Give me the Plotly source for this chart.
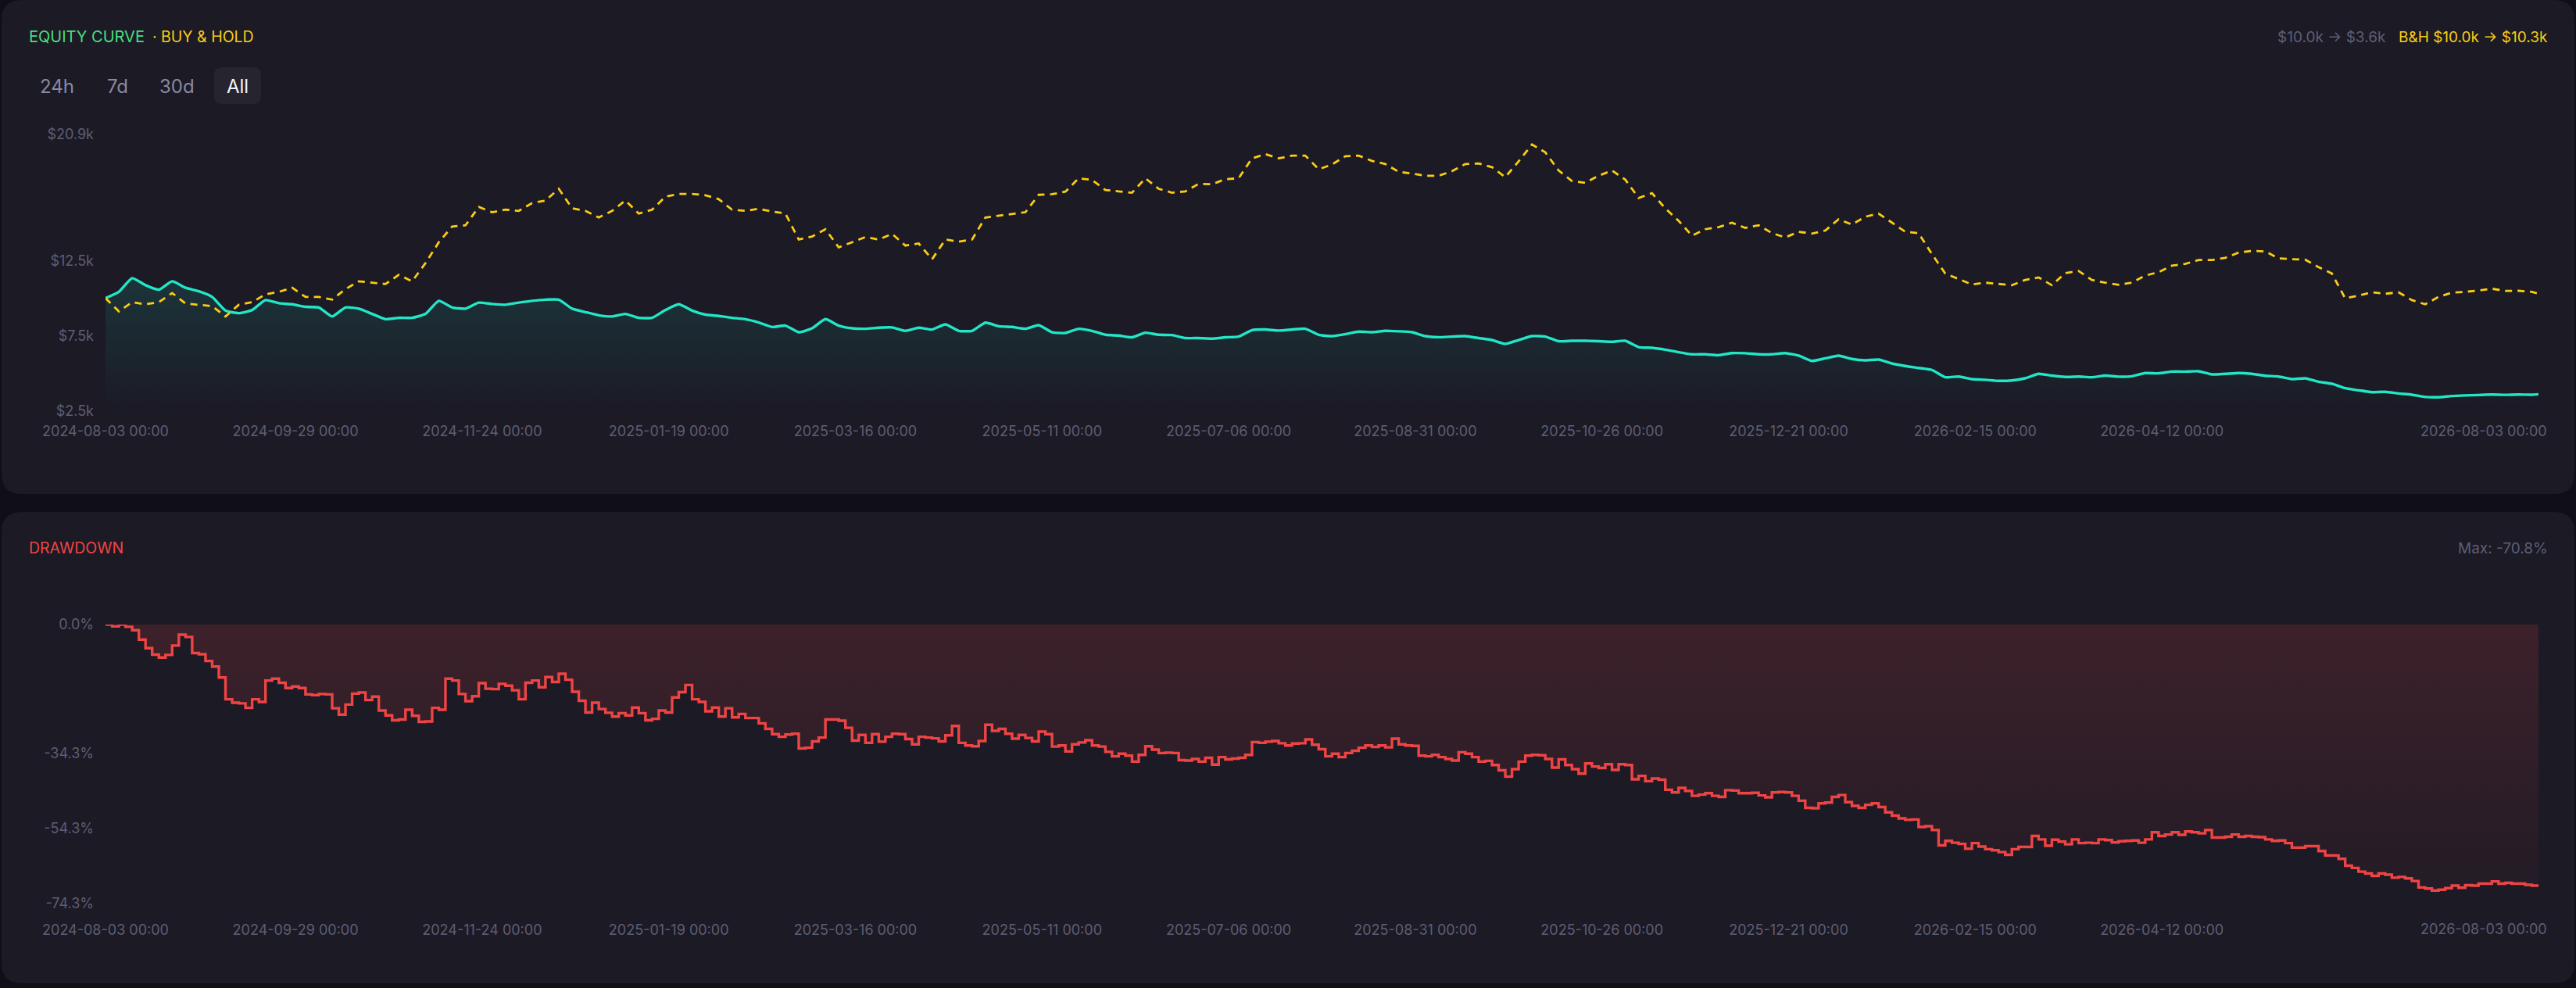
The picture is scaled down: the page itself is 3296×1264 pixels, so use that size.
import pandas as pd
import plotly.graph_objects as go

W, H = 3296, 1264

# %% data
dd_dates = pd.date_range("2024-08-03", "2026-08-03", freq="2D")
eq_dates = list(dd_dates[::2]) + [dd_dates[-1]]

equity_k = [
    10.0, 10.42, 11.33, 10.86, 10.56, 11.12, 10.69, 10.46, 10.08, 9.17,
    9.00, 9.21, 9.87, 9.66, 9.59, 9.42, 9.38, 8.78, 9.38, 9.30,
    8.95, 8.60, 8.69, 8.69, 8.95, 9.82, 9.38, 9.30, 9.70, 9.61,
    9.56, 9.70, 9.82, 9.90, 9.90, 9.30, 9.07, 8.86, 8.78, 8.95,
    8.69, 8.69, 9.21, 9.59, 9.17, 8.90, 8.81, 8.69, 8.60, 8.38,
    8.08, 8.17, 7.73, 7.99, 8.60, 8.17, 7.99, 7.96, 8.03, 8.05,
    7.82, 8.03, 7.91, 8.25,
    7.82, 7.82, 8.37, 8.13, 8.08, 7.96, 8.20, 7.73, 7.68, 7.96,
    7.82, 7.56, 7.51, 7.39, 7.70, 7.56, 7.54, 7.34, 7.34, 7.30,
    7.39, 7.44, 7.87, 7.91, 7.84, 7.91, 7.96, 7.56, 7.47, 7.60,
    7.77, 7.73, 7.82, 7.79, 7.73, 7.47, 7.40, 7.44, 7.47, 7.34,
    7.21, 6.95, 7.21, 7.47, 7.44, 7.13, 7.16, 7.16, 7.13, 7.09,
    7.16, 6.74, 6.69, 6.57, 6.40, 6.26, 6.26, 6.20, 6.34, 6.33,
    6.26, 6.26,
    6.34, 6.17, 5.82, 5.99, 6.17, 5.95, 5.86, 5.91, 5.65, 5.48,
    5.35, 5.22, 4.73, 4.78, 4.61, 4.56, 4.49, 4.52, 4.66, 4.96,
    4.84, 4.75, 4.78, 4.73, 4.84, 4.77, 4.80, 5.01, 4.99, 5.11,
    5.11, 5.13, 4.92, 4.96, 5.01, 4.96, 4.83, 4.78, 4.61, 4.66,
    4.43, 4.30, 4.00, 3.86, 3.74, 3.76, 3.65, 3.57, 3.42, 3.40,
    3.48, 3.52, 3.55, 3.58, 3.56, 3.58, 3.57, 3.60,
]

buyhold_k = [
    10.0, 9.12, 9.73, 9.59, 9.73, 10.34, 9.64, 9.56, 9.47, 8.78,
    9.56, 9.73, 10.25, 10.42, 10.69, 10.08, 10.08, 9.90, 10.60, 11.12,
    11.03, 10.94, 11.55, 11.12, 12.33, 13.72, 14.77, 14.85, 16.07, 15.72,
    15.89, 15.81, 16.33, 16.50, 17.28, 15.98, 15.81, 15.37, 15.81, 16.50,
    15.63, 15.89, 16.76, 16.94, 16.94, 16.85, 16.59, 15.89, 15.81, 15.95,
    15.77, 15.63, 13.90, 14.10, 14.59, 13.38, 13.72, 14.07, 13.90, 14.28,
    13.50, 13.64, 12.59, 13.90,
    13.76, 13.90, 15.37, 15.49, 15.60, 15.72, 16.88, 16.92, 17.09, 17.98,
    17.87, 17.20, 17.11, 17.02, 17.98, 17.28, 17.02, 17.11, 17.61, 17.58,
    17.92, 17.98, 19.31, 19.59, 19.31, 19.49, 19.49, 18.58, 18.90, 19.45,
    19.49, 19.14, 18.93, 18.41, 18.29, 18.15, 18.15, 18.45, 18.93, 18.97,
    18.72, 18.06, 19.11, 20.23, 19.71, 18.50, 17.80, 17.68, 18.15, 18.50,
    17.89, 16.67, 16.99, 15.98, 15.15, 14.16, 14.59, 14.73, 15.02, 14.68,
    14.85, 14.33,
    14.04, 14.42, 14.30, 14.50, 15.25, 14.90, 15.42, 15.63, 15.03, 14.42,
    14.33, 12.94, 11.64, 11.29, 10.91, 11.03, 10.95, 10.86, 11.21, 11.38,
    10.86, 11.67, 11.81, 11.21, 11.03, 10.89, 11.03, 11.50, 11.73, 12.16,
    12.28, 12.54, 12.54, 12.68, 13.03, 13.15, 13.11, 12.65, 12.59, 12.56,
    12.07, 11.64, 9.99, 10.16, 10.39, 10.29, 10.39, 9.87, 9.59, 10.08,
    10.37, 10.42, 10.51, 10.63, 10.48, 10.49, 10.42, 10.30,
]

drawdown_pct = [
    0, -0.5, 0, -0.6, -1.5, -4.0, -6.3, -8.0, -8.8, -8.1,
    -5.6, -2.7, -3.3, -7.6, -7.9, -9.7, -11.2, -14.1, -19.9, -20.8,
    -21.0, -22.2, -19.9, -20.6, -14.9, -14.4, -15.5, -16.9, -16.5, -16.9,
    -18.6, -18.8, -18.5, -18.6, -22.3, -24.0, -21.3, -18.4, -18.1, -20.1,
    -19.2, -22.9, -24.2, -25.5, -25.3, -22.7, -24.3, -25.9, -25.8, -22.2,
    -22.7, -14.4, -14.9, -18.5, -20.4, -19.1, -15.6, -17.1, -17.2, -15.8,
    -16.3, -17.5, -19.9, -15.5, -14.9, -16.7, -14.0, -15.3, -13.1, -14.7,
    -17.9, -20.3, -23.4, -20.8, -22.5, -23.5, -24.5, -23.6, -24.2, -22.1,
    -23.6, -25.5, -25.1, -22.9, -23.4, -19.4, -18.0, -16.1, -19.9, -20.6,
    -23.1, -22.1, -24.5, -22.3, -24.7, -23.8, -24.9, -24.9, -26.3, -27.8,
    -29.2, -29.9, -29.3, -29.1, -33.0, -32.8, -31.1, -30.1, -25.3, -25.3,
    -25.6, -27.5, -30.9, -29.4, -31.5, -29.2, -31.2, -29.9, -29.1, -29.2,
    -30.5, -31.9, -29.9, -30.1, -30.3, -31.1, -29.5, -27.0,
    -31.5, -32.2, -32.4, -31.0, -26.7, -28.3, -27.8, -29.1, -30.4, -29.4,
    -30.2, -31.1, -28.5, -29.2, -32.5, -32.2, -33.8, -31.9, -31.4, -30.8,
    -32.2, -32.5, -33.9, -35.1, -34.4, -34.9, -36.5, -34.7, -32.4, -33.3,
    -34.2, -34.1, -34.2, -36.1, -36.2,
    -35.8, -36.5, -35.5, -37.3, -35.3, -35.9, -35.7, -35.5, -34.7, -31.3,
    -31.5, -31.2, -31.0, -31.6, -32.2, -31.7, -31.6, -30.6, -32.0, -33.2,
    -35.1, -34.4, -35.3, -34.2, -33.6, -32.8, -32.2, -32.6, -32.2, -32.7,
    -30.4, -31.9, -32.2, -32.3, -34.9, -35.1, -34.7, -35.3, -35.8, -36.2,
    -34.0, -34.4, -35.3, -36.5,
    -36.3, -37.4, -38.8, -40.5, -38.5, -36.5, -34.9, -34.7, -34.8, -35.8,
    -38.1, -35.9, -37.4, -38.5, -39.7, -37.0, -37.8, -38.2, -37.2, -38.7,
    -37.2, -37.4, -41.2, -40.3, -41.7, -41.0, -41.3, -44.0, -44.7, -43.5,
    -44.3, -45.6, -45.3, -44.9, -45.6, -45.9, -44.1, -44.2, -44.9, -44.9,
    -44.8, -45.5, -46.0, -44.7,
    -44.6, -44.7, -45.6, -46.9, -48.8, -48.9, -47.6, -47.4, -45.9, -45.4,
    -47.3, -48.3, -48.8, -48.0, -47.6, -48.6, -50.0, -50.9, -51.6, -52.0,
    -51.9, -53.9, -53.7, -54.7, -58.8, -57.6, -58.1, -58.4, -59.7, -58.2,
    -59.1, -59.8, -60.1, -60.6, -61.3, -59.8, -59.2, -59.2, -56.3, -57.2,
    -58.9, -57.3, -57.8, -58.5, -57.2, -58.2, -58.1, -58.2, -57.2, -57.4,
    -58.0, -57.7, -57.6, -57.5, -58.1, -57.2, -55.3, -56.3, -55.9, -55.3,
    -56.0, -55.1, -55.3, -55.6, -54.7, -56.7, -56.7, -56.5, -55.9, -56.5,
    -56.3, -56.5, -56.6, -57.2, -57.6, -57.5, -58.2, -59.4, -59.4, -59.0,
    -59.0, -60.3, -61.5, -61.5, -62.4, -64.2, -64.8, -65.8, -66.3, -66.9,
    -66.3, -66.6, -67.4, -67.2, -67.6, -68.3, -70.0, -70.3, -70.8, -70.6,
    -70.2, -69.5, -70.1, -69.4, -69.5, -69.0, -69.0, -68.4, -69.0, -68.8,
    -69.0, -69.0, -69.3, -69.5, -69.7,
]

x_tick_dates = ["2024-08-03", "2024-09-29", "2024-11-24", "2025-01-19", "2025-03-16",
                "2025-05-11", "2025-07-06", "2025-08-31", "2025-10-26", "2025-12-21",
                "2026-02-15", "2026-04-12"]
x_tick_labels = [d + " 00:00" for d in x_tick_dates]
last_tick_label = "2026-08-03 00:00"

eq_ticks = [2.5, 7.5, 12.5, 20.9]
eq_tick_labels = ["$2.5k", "$7.5k", "$12.5k", "$20.9k"]
dd_ticks = [-74.3, -54.3, -34.3, 0.0]
dd_tick_labels = ["-74.3%", "-54.3%", "-34.3%", "0.0%"]

# %% colours
BG = "#100f18"
CARD = "#1b1a25"
TEAL = "#22e6c6"
YELLOW = "#facc15"
RED = "#ef4444"
GREEN = "#4ade80"
MUTED = "#5f5e74"
FONT = "Inter"


def px_x(x):
    return x / W


def px_y(y):
    return 1 - y / H


def rounded(x0, y0, x1, y1, r):
    rx, ry = r / W, r / H
    a, b, c, d = px_x(x0), px_y(y0), px_x(x1), px_y(y1)
    return (f"M {a + rx},{b} L {c - rx},{b} Q {c},{b} {c},{b - ry} "
            f"L {c},{d + ry} Q {c},{d} {c - rx},{d} L {a + rx},{d} "
            f"Q {a},{d} {a},{d + ry} L {a},{b - ry} Q {a},{b} {a + rx},{b} Z")


fig = go.Figure()

fig.add_trace(go.Scatter(
    x=eq_dates, y=equity_k, mode="lines", xaxis="x", yaxis="y",
    line=dict(color=TEAL, width=3.4, shape="spline", smoothing=0.5),
    fill="tozeroy",
    fillgradient=dict(type="vertical", start=2.5, stop=11.3,
                      colorscale=[[0, "rgba(34,230,198,0.0)"], [1, "rgba(34,230,198,0.13)"]]),
    hoverinfo="skip",
))
fig.add_trace(go.Scatter(
    x=eq_dates, y=buyhold_k, mode="lines", xaxis="x", yaxis="y",
    line=dict(color=YELLOW, width=2.8, dash="9px,7px"),
    hoverinfo="skip",
))
fig.add_trace(go.Scatter(
    x=dd_dates, y=drawdown_pct, mode="lines", xaxis="x2", yaxis="y2",
    line=dict(color=RED, width=3.4, shape="hv"),
    fill="tozeroy",
    fillgradient=dict(type="vertical", start=-74.3, stop=0,
                      colorscale=[[0, "rgba(239,68,68,0.03)"], [1, "rgba(239,68,68,0.16)"]]),
    hoverinfo="skip",
))

x_dom = [px_x(135), px_x(3248)]
axis_common = dict(showgrid=False, zeroline=False, showline=False, ticks="", automargin=False,
                   tickfont=dict(family=FONT, size=18, color=MUTED))
x_common = dict(axis_common, type="date", domain=x_dom,
                range=[dd_dates[0], dd_dates[-1]],
                tickvals=x_tick_dates, ticktext=x_tick_labels)

fig.update_layout(
    width=W, height=H,
    margin=dict(l=0, r=0, t=0, b=0, pad=0, autoexpand=False),
    paper_bgcolor=BG, plot_bgcolor="rgba(0,0,0,0)",
    showlegend=False,
    font=dict(family=FONT, color=MUTED),
    xaxis=dict(x_common, anchor="y", ticklabelstandoff=13),
    yaxis=dict(axis_common, domain=[px_y(525.5), px_y(172)], range=[2.5, 20.9],
               tickvals=eq_ticks, ticktext=eq_tick_labels, ticklabelstandoff=14, anchor="x"),
    xaxis2=dict(x_common, anchor="y2", ticklabelstandoff=21),
    yaxis2=dict(axis_common, domain=[px_y(1156), px_y(799)], range=[-74.3, 0],
                tickvals=dd_ticks, ticktext=dd_tick_labels, ticklabelstandoff=14, anchor="x2"),
)

# cards and the active range button
fig.add_shape(type="path", path=rounded(2, 0, 3294, 632, 26), xref="paper", yref="paper",
              fillcolor=CARD, line_width=0, layer="below")
fig.add_shape(type="path", path=rounded(2, 655, 3294, 1258, 26), xref="paper", yref="paper",
              fillcolor=CARD, line_width=0, layer="below")
fig.add_shape(type="path", path=rounded(274, 86, 334, 133, 10), xref="paper", yref="paper",
              fillcolor="#25242f", line_width=0, layer="below")


def label(text, x, y, color, size=19, anchor="left", ref="paper"):
    fig.add_annotation(text=text, x=x, y=y, xref=ref, yref="paper", showarrow=False,
                       xanchor=anchor, yanchor="middle",
                       font=dict(family=FONT, size=size, color=color))


label("EQUITY CURVE", px_x(35), px_y(47), GREEN, size=20)
label("· BUY &amp; HOLD", px_x(193), px_y(47), YELLOW, size=19.5)
label("B&amp;H $10.0k → $10.3k", px_x(3262), px_y(48), YELLOW, anchor="right")
label("$10.0k → $3.6k", px_x(3055), px_y(48), MUTED, anchor="right")

for txt, cx, col in [("24h", 73, "#8a89a0"), ("7d", 150, "#8a89a0"),
                     ("30d", 226, "#8a89a0"), ("All", 304, "#f4f4f8")]:
    label(txt, px_x(cx), px_y(110), col, size=24, anchor="center")

label("DRAWDOWN", px_x(35), px_y(701), RED, size=19.5)
label("Max: -70.8%", px_x(3262), px_y(701), MUTED, anchor="right")

# last date label sits inside the plot edge
for ref, yy in [("x", 551), ("x2", 1188)]:
    fig.add_annotation(text=last_tick_label, x=dd_dates[-1], y=px_y(yy), xref=ref, yref="paper",
                       showarrow=False, xanchor="right", yanchor="middle", xshift=13,
                       font=dict(family=FONT, size=18, color=MUTED))

fig.write_html("out.html", config={"displayModeBar": False},
               post_script="document.body.style.margin='0';"
                           "document.body.style.background='#100f18';")
